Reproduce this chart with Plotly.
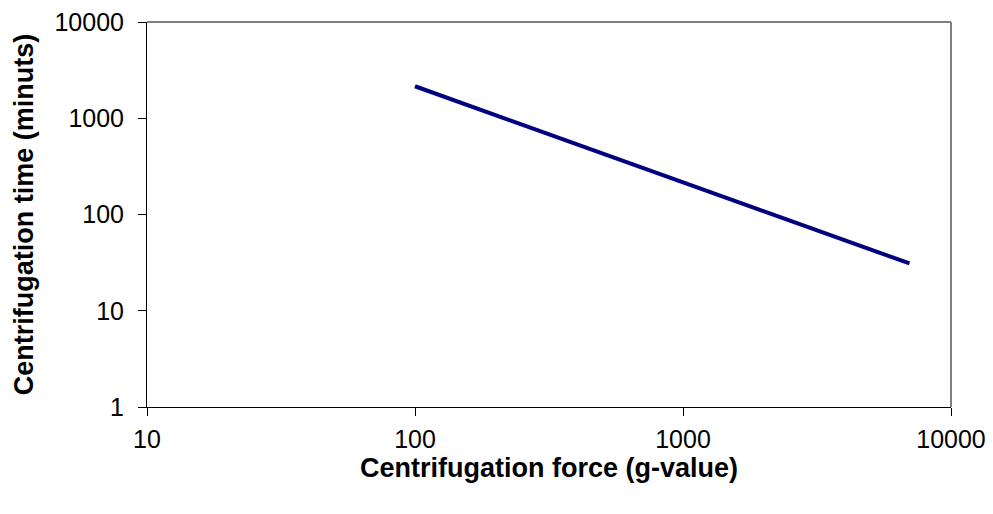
import plotly.graph_objects as go

force_g = [100, 200, 500, 1000, 2000, 5000, 7000]
time_min = [2150, 1075, 430, 215, 108, 43, 31]

x_ticks = [10, 100, 1000, 10000]
y_ticks = [1, 10, 100, 1000, 10000]

fig = go.Figure()
fig.add_trace(go.Scatter(x=force_g, y=time_min, mode="lines",
                         line=dict(color="#000080", width=4), showlegend=False))

font = dict(family="Liberation Sans, Arial, sans-serif", size=25, color="black")
fig.update_layout(
    width=993, height=514,
    margin=dict(l=147, r=42, t=22, b=107),
    paper_bgcolor="white", plot_bgcolor="white",
    font=font,
    xaxis=dict(type="log", range=[1, 4], tickvals=x_ticks, ticktext=[str(v) for v in x_ticks],
               showgrid=False, zeroline=False, showline=True, linecolor="black", linewidth=1,
               ticks="outside", ticklen=8, tickcolor="black", ticklabelstandoff=2, automargin=False,
               title=dict(text="<b>Centrifugation force (g-value)</b>", font=dict(size=27), standoff=4)),
    yaxis=dict(type="log", range=[0, 4], tickvals=y_ticks, ticktext=[str(v) for v in y_ticks],
               showgrid=False, zeroline=False, showline=True, linecolor="black", linewidth=1,
               ticks="outside", ticklen=8, tickcolor="black", ticklabelstandoff=9, automargin=False,
               title=dict(text="<b>Centrifugation time (minuts)</b>", font=dict(size=27), standoff=13)),
    shapes=[
        dict(type="line", xref="paper", yref="paper", x0=0, x1=1, y0=1, y1=1,
             line=dict(color="#808080", width=2)),
        dict(type="line", xref="paper", yref="paper", x0=1, x1=1, y0=0, y1=1,
             line=dict(color="#808080", width=2)),
    ],
)
fig.write_html("out.html")
